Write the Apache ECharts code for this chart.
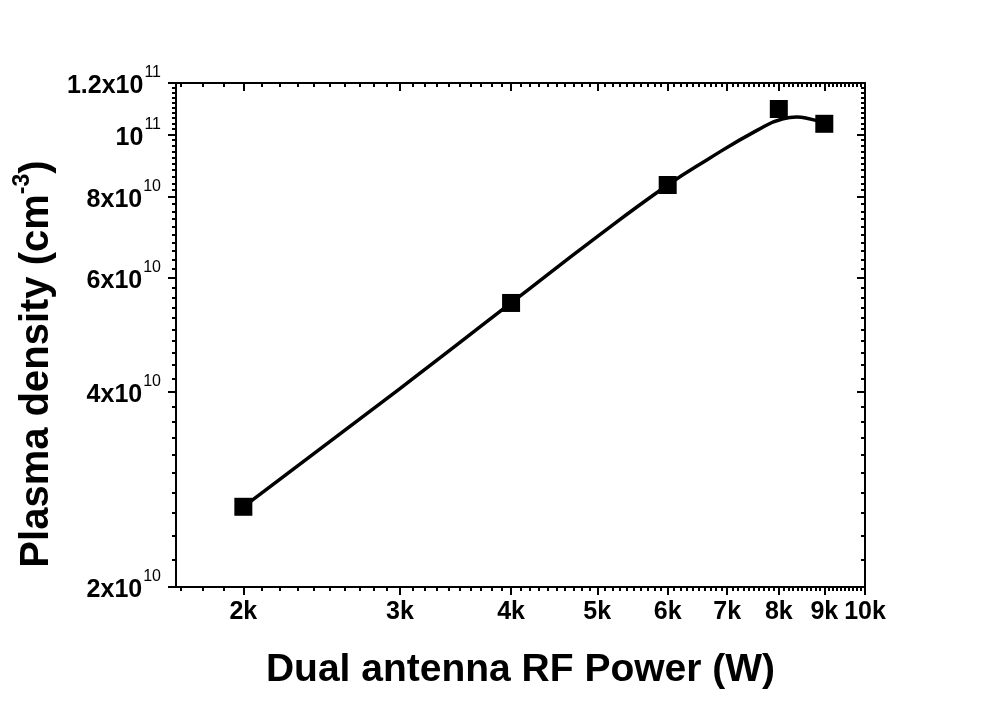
<!DOCTYPE html>
<html><head><meta charset="utf-8">
<script src="https://cdn.jsdelivr.net/npm/echarts@6/dist/echarts.min.js"></script>
<style>html,body{margin:0;padding:0;background:#fff}#c{width:1006px;height:704px}</style>
</head><body><div id="c"></div>
<script>
// measured points
const powerW = [2000, 4000, 6000, 8000, 9000];
const density = [2.66e10, 5.49e10, 8.35e10, 1.094e11, 1.038e11];
// fitted curve
const curvePower = [2000, 3000, 4000, 5000, 6000, 6640, 7560, 8090, 8380, 8600, 8900, 9000];
const curveDensity = [2.66e10, 4.05e10, 5.49e10, 6.95e10, 8.35e10, 9.13e10, 1.014e11, 1.057e11, 1.063e11, 1.059e11, 1.046e11, 1.038e11];
// ticks
const xMajor = [2000, 3000, 4000, 5000, 6000, 7000, 8000, 9000, 10000];
const xLabels = ['2k', '3k', '4k', '5k', '6k', '7k', '8k', '9k', '10k'];
const yMajor = [2e10, 4e10, 6e10, 8e10, 1e11, 1.2e11];
const yLabelBase = ['2x10', '4x10', '6x10', '8x10', '10', '1.2x10'];
const yLabelExp = ['10', '10', '10', '10', '11', '11'];
const xMinor = [];
for (let v = 1700; v <= 10000; v += 100) xMinor.push(v);
const yMinor = [];
for (let k = 10; k <= 60; k++) yMinor.push(k * 2e9);

const FONT = '"Liberation Sans", Arial, sans-serif';
const xMin = 1680, xMax = 10000, yMin = 2e10, yMax = 1.2e11;

function nearestIdx(arr, v) {
  let bi = 0, bd = Infinity;
  arr.forEach((a, i) => { const d = Math.abs(Math.log(a) - Math.log(v)); if (d < bd) { bd = d; bi = i; } });
  return bi;
}

function xAxisDef(pos, ticks, len, inside, showLine, showLabel) {
  return {
    type: 'log', position: pos, min: xMin, max: xMax, gridIndex: 0,
    axisLine: { show: showLine, lineStyle: { color: '#000', width: 2 } },
    axisTick: { show: true, customValues: ticks, length: len, inside: inside, lineStyle: { color: '#000', width: 2 } },
    axisLabel: showLabel ? {
      show: true, customValues: xMajor, margin: 13,
      fontFamily: FONT, fontWeight: 'bold', fontSize: 25, color: '#000',
      formatter: v => xLabels[nearestIdx(xMajor, v)]
    } : { show: false },
    splitLine: { show: false }, minorTick: { show: false }
  };
}
function yAxisDef(pos, ticks, len, inside, showLine, showLabel) {
  return {
    type: 'log', position: pos, min: yMin, max: yMax, gridIndex: 0,
    axisLine: { show: showLine, lineStyle: { color: '#000', width: 2 } },
    axisTick: { show: true, customValues: ticks, length: len, inside: inside, lineStyle: { color: '#000', width: 2 } },
    axisLabel: showLabel ? {
      show: true, customValues: yMajor, margin: 15, padding: [4, 0, 0, 0],
      formatter: v => { const i = nearestIdx(yMajor, v); return '{m|' + yLabelBase[i] + '}{s|' + yLabelExp[i] + '}'; },
      rich: {
        m: { fontFamily: FONT, fontWeight: 'bold', fontSize: 25, lineHeight: 28, color: '#000', verticalAlign: 'bottom' },
        s: { fontFamily: FONT, fontWeight: 'normal', fontSize: 16, lineHeight: 18, color: '#000', verticalAlign: 'bottom', padding: [0, 0, 18, 1] }
      }
    } : { show: false },
    splitLine: { show: false }, minorTick: { show: false }
  };
}

const chart = echarts.init(document.getElementById('c'), null, { renderer: 'canvas' });
const xa = [
  xAxisDef('bottom', xMajor, 8, false, true, true),
  xAxisDef('bottom', xMinor, 4, false, false, false),
  xAxisDef('top', xMajor, 8, true, true, false),
  xAxisDef('top', xMinor, 4, true, false, false)
];
xa[0].name = 'Dual antenna RF Power (W)';
xa[0].nameLocation = 'middle';
xa[0].nameGap = 64;
xa[0].nameTextStyle = { fontFamily: FONT, fontWeight: 'bold', fontSize: 39, color: '#000' };

chart.setOption({
  animation: false,
  backgroundColor: '#fff',
  grid: { left: 176, right: 141, top: 83, bottom: 117, containLabel: false },
  xAxis: xa,
  yAxis: [
    yAxisDef('left', yMajor, 8, false, true, true),
    yAxisDef('left', yMinor, 4, false, false, false),
    yAxisDef('right', yMajor, 8, true, true, false),
    yAxisDef('right', yMinor, 4, true, false, false)
  ],
  graphic: [{
    type: 'text', x: 35, y: 364, rotation: Math.PI / 2,
    style: {
      text: '{t|Plasma density (cm}{s|-3}{t|)}',
      align: 'center', verticalAlign: 'middle',
      rich: {
        t: { fontFamily: FONT, fontWeight: 'bold', fontSize: 40, lineHeight: 44, fill: '#000', verticalAlign: 'bottom' },
        s: { fontFamily: FONT, fontWeight: 'bold', fontSize: 23, lineHeight: 25, fill: '#000', verticalAlign: 'bottom', padding: [0, 0, 23, 0] }
      }
    }
  }],
  series: [
    {
      type: 'line', name: 'fit', xAxisIndex: 0, yAxisIndex: 0,
      data: curvePower.map((p, i) => [p, curveDensity[i]]),
      smooth: 0.5, symbol: 'none',
      lineStyle: { color: '#000', width: 3.5 }, z: 2
    },
    {
      type: 'scatter', name: 'data', xAxisIndex: 0, yAxisIndex: 0,
      data: powerW.map((p, i) => [p, density[i]]),
      symbol: 'rect', symbolSize: 18,
      itemStyle: { color: '#000', opacity: 1 }, z: 3
    }
  ]
});
</script></body></html>
